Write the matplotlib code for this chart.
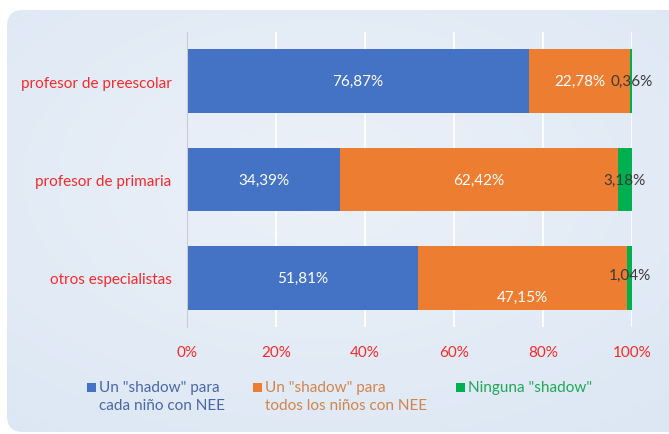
import matplotlib
matplotlib.use("Agg")
import matplotlib.pyplot as plt
from matplotlib.patches import FancyBboxPatch, Rectangle
import numpy as np

plt.rcParams['font.family'] = ['Lato', 'DejaVu Sans']

categories = ["profesor de preescolar", "profesor de primaria", "otros especialistas"]
series_names = ['Un "shadow" para\ncada niño con NEE',
                'Un "shadow" para\ntodos los niños con NEE',
                'Ninguna "shadow"']
uno_cada = [76.87, 34.39, 51.81]
uno_todos = [22.78, 62.42, 47.15]
ninguna = [0.36, 3.18, 1.04]
xticks = [0, 20, 40, 60, 80, 100]
xtick_labels = ["0%", "20%", "40%", "60%", "80%", "100%"]

colors = ["#4472c4", "#ed7d31", "#00b050"]
legend_text_colors = ["#4a66a8", "#d2844a", "#1fa856"]
red = "#f42a2a"

W, H = 669, 435
fig = plt.figure(figsize=(W / 100, H / 100), dpi=100)
fig.patch.set_facecolor("white")

# background panel with soft gradient
bgax = fig.add_axes([0, 0, 1, 1])
bgax.set_xlim(0, W)
bgax.set_ylim(H, 0)
bgax.axis("off")
gx, gy = np.meshgrid(np.linspace(0, 1, 200), np.linspace(0, 1, 130))
d = np.sqrt(((gx - 0.45) / 0.8) ** 2 + ((gy - 0.4) / 0.8) ** 2)
d = np.clip(d, 0, 1)
c_in = np.array([0.925, 0.945, 0.975])
c_out = np.array([0.86, 0.905, 0.955])
img = c_in[None, None, :] * (1 - d[..., None]) + c_out[None, None, :] * d[..., None]
panel = FancyBboxPatch((7, 11), 700, 422, boxstyle="round,pad=0,rounding_size=16",
                       transform=bgax.transData, facecolor="none", edgecolor="none")
bgax.add_patch(panel)
im = bgax.imshow(img, extent=(7, 707, 433, 11), aspect="auto", zorder=0)
im.set_clip_path(panel)

ax = fig.add_axes([187 / W, 1 - 328 / H, (632 - 187) / W, (328 - 33) / H])
ax.set_facecolor("none")

y = np.arange(len(categories))
h = 0.65
series = [uno_cada, uno_todos, ninguna]
left = np.zeros(len(categories))
lefts = []
for vals, c in zip(series, colors):
    ax.barh(y, vals, left=left, height=h, color=c, zorder=3)
    lefts.append(left.copy())
    left = left + np.array(vals)

def fmt(v):
    return f"{v:.2f}%".replace(".", ",")

offsets = {(1, 2): (0, -14), (2, 2): (0, 2)}
for si, vals in enumerate(series):
    for ci, v in enumerate(vals):
        xc = lefts[si][ci] + v / 2
        dx, dy = offsets.get((si, ci), (0, 0))
        col = "white" if si < 2 else "#3a3a3a"
        ax.annotate(fmt(v), (xc, y[ci]), xytext=(dx, dy), textcoords="offset points",
                    ha="center", va="center", fontsize=11, color=col, zorder=5)

ax.set_xlim(0, 100)
ax.set_ylim(len(categories) - 0.5, -0.5)
ax.set_yticks(y)
ax.set_yticklabels(categories, fontsize=11, color=red)
ax.set_xticks(xticks)
ax.set_xticklabels(xtick_labels, fontsize=11, color=red)
ax.tick_params(axis="both", length=0)
ax.tick_params(axis="y", pad=11)
ax.tick_params(axis="x", pad=13)
ax.grid(axis="x", color="white", linewidth=1.3, zorder=0)
for s in ["top", "right", "bottom"]:
    ax.spines[s].set_visible(False)
ax.spines["left"].set_color("#c8ccd2")
ax.spines["left"].set_zorder(4)

# legend (manual layout in pixel coordinates of the background axes)
leg_x = [87, 253, 456]
for xs, name, c, tc in zip(leg_x, series_names, colors, legend_text_colors):
    bgax.add_patch(Rectangle((xs, 384), 8.5, 8.5, facecolor=c, edgecolor="none", zorder=5))
    bgax.text(xs + 12, 381, name, fontsize=11, color=tc, ha="left", va="top",
              linespacing=1.4, zorder=5)

fig.savefig("out.png", dpi=100, facecolor="white")
